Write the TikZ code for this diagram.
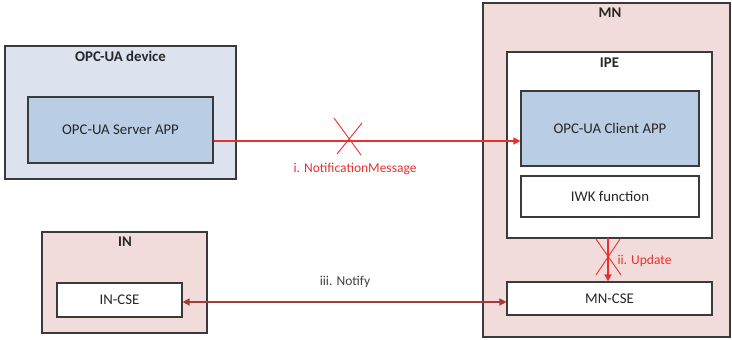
\documentclass[tikz,border=0pt]{standalone}
\usepackage{fontspec}
\setmainfont{Carlito}
\usetikzlibrary{arrows.meta,calc}
\definecolor{devfill}{HTML}{DCE3EE}
\definecolor{appfill}{HTML}{B9CDE5}
\definecolor{nodefill}{HTML}{F2DCDB}
\definecolor{msgred}{HTML}{E8302E}
\definecolor{notered}{HTML}{A33B3B}
\definecolor{edge}{HTML}{3A3A3A}
\tikzset{
  frame/.style={draw=edge, line width=1.1pt},
  box/.style={draw=edge, line width=1.1pt, text=black!85, font=\fontsize{14.8}{17}\selectfont},
  title/.style={text=black!85, font=\bfseries\fontsize{14.8}{17}\selectfont, anchor=center},
  msg/.style={draw=msgred, line width=1.3pt, -{Triangle[length=7pt,width=7pt]}},
  notif/.style={draw=notered, line width=1.3pt, {Triangle[length=7pt,width=7pt]}-{Triangle[length=7pt,width=7pt]}},
  cross/.style={draw=msgred, line width=0.9pt},
  redlbl/.style={text=msgred, font=\fontsize{13.5}{15}\selectfont},
  greylbl/.style={text=black!75, font=\fontsize{13.5}{15}\selectfont}
}
\begin{document}
\begin{tikzpicture}[x=1pt,y=-1pt]
\useasboundingbox (0,0) rectangle (732,340);
% containers
\draw[frame, fill=devfill] (5,46) rectangle (236,179);
\node[title] (devT) at (120.5,56) {OPC-UA device};
\draw[frame, fill=nodefill] (483,3) rectangle (730,337);
\node[title] (mnT) at (610,13) {MN};
\draw[frame, fill=white] (507,52) rectangle (712,238);
\node[title] (ipeT) at (609.5,63) {IPE};
\draw[frame, fill=nodefill] (42,232) rectangle (207,333);
\node[title] (inT) at (125,242) {IN};
% inner components
\node[box, fill=appfill, minimum width=185pt, minimum height=66pt] (srv) at (120.5,130) {OPC-UA Server APP};
\node[box, fill=appfill, minimum width=178pt, minimum height=75pt] (cli) at (610,128.5) {OPC-UA Client APP};
\node[box, fill=white, minimum width=178pt, minimum height=41pt] (iwk) at (610,196.5) {IWK function};
\node[box, fill=white, minimum width=205pt, minimum height=33pt] (mncse) at (609.5,298.5) {MN-CSE};
\node[box, fill=white, minimum width=125pt, minimum height=34pt] (incse) at (119.5,300) {IN-CSE};
% lower edge of IPE, where the update starts
\coordinate (ipeB) at (608,238);
% i. NotificationMessage
\draw[msg] (srv.east |- 0,141) -- (cli.west |- 0,141);
\coordinate (x1) at (348,141);
\draw[cross] ($(x1)+(-14,-23)$) -- ($(x1)+(13,14)$);
\draw[cross] ($(x1)+(14,-18)$) -- ($(x1)+(-11,13)$);
\node[redlbl] (l1) at (355,169) {i. NotificationMessage};
% ii. Update
\draw[msg] (ipeB) -- (ipeB |- mncse.north);
\coordinate (x2) at (608,257);
\draw[cross] ($(x2)+(-12,-18)$) -- ($(x2)+(13,18)$);
\draw[cross] ($(x2)+(12,-18)$) -- ($(x2)+(-12,18)$);
\node[redlbl, anchor=west] (l2) at (614,261) {ii. Update};
% iii. Notify
\draw[notif] (incse.east |- 0,302) -- (mncse.west |- 0,302);
\node[greylbl] (l3) at (345,282) {iii. Notify};
\end{tikzpicture}
\end{document}
